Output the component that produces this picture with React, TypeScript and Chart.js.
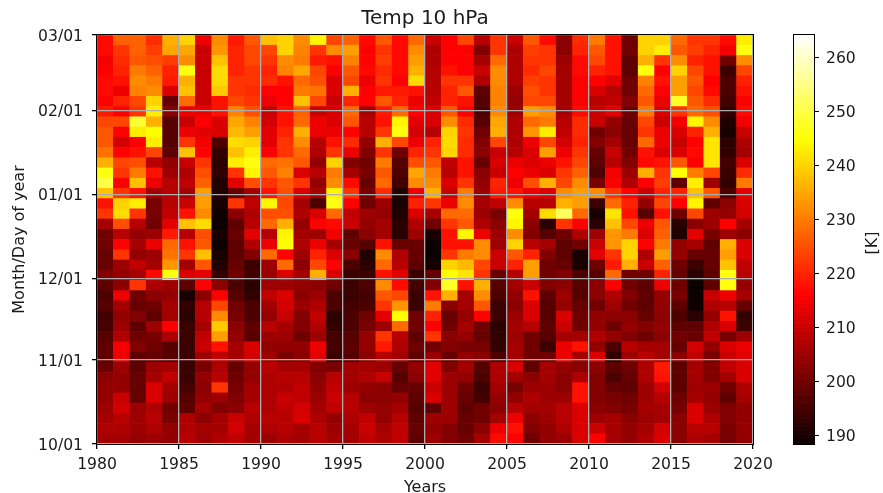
import React, { useEffect, useRef } from "react";
import { Chart, registerables } from "chart.js";

Chart.register(...registerables);

const FONT = "'DejaVu Sans'";
const INK = "#1a1a1a";

const years = [1980, 1981, 1982, 1983, 1984, 1985, 1986, 1987, 1988, 1989, 1990, 1991, 1992, 1993, 1994, 1995, 1996, 1997, 1998, 1999, 2000, 2001, 2002, 2003, 2004, 2005, 2006, 2007, 2008, 2009, 2010, 2011, 2012, 2013, 2014, 2015, 2016, 2017, 2018, 2019];
const dayTicks = [0, 31, 61, 92, 123, 151];
const dayLabels = ["10/01", "11/01", "12/01", "01/01", "02/01", "03/01"];
const colorTicks = [190, 200, 210, 220, 230, 240, 250, 260];
const VMIN = 188.5;
const VMAX = 264.2;
const DAYS = 151;

// Each array runs from the top of the plot (03/01) down to the bottom (10/01).
const t1980 = [217,217,215,216,217,217,216,219,224,226,226,229,236,246,250,238,218,222,206,200,200,199,199,202,198,196,197,195,195,197,198,198,199,203,204,204,205,206,207,206];
const t1981 = [227,222,221,220,218,214,220,216,224,216,211,216,224,222,216,222,240,241,225,208,216,222,205,204,203,214,206,204,205,207,215,214,205,204,204,210,211,208,207,206];
const t1982 = [227,227,226,230,232,231,224,222,249,243,216,218,225,230,238,218,243,222,208,204,206,204,209,206,222,200,199,202,198,200,202,198,198,199,199,199,205,205,205,204];
const t1983 = [221,223,225,227,230,232,240,243,236,245,243,224,208,218,214,206,201,201,200,205,214,205,206,217,207,203,200,198,205,201,200,199,205,206,212,212,207,208,207,205];
const t1984 = [236,235,223,220,219,212,199,203,197,197,197,198,204,205,208,208,208,209,213,219,228,229,233,246,205,204,206,206,216,207,197,197,206,209,206,205,200,201,204,204];
const t1985 = [240,235,232,246,236,238,228,214,210,214,222,238,210,207,209,206,210,218,238,208,218,222,206,212,198,190,193,192,194,194,194,194,194,194,195,197,198,207,207,208];
const t1986 = [214,210,210,210,210,210,210,214,216,213,215,216,222,225,227,234,234,232,241,225,226,238,226,213,216,203,208,208,206,209,210,205,201,204,203,204,206,203,206,205];
const t1987 = [232,233,238,241,241,239,218,218,212,212,196,193,192,193,191,191,190,189,189,190,189,190,191,193,203,216,224,232,239,234,218,209,207,208,222,205,202,206,206,207];
const t1988 = [219,220,220,220,222,222,224,231,235,237,241,238,243,222,213,199,222,203,198,199,198,198,199,200,196,197,200,201,203,204,206,206,199,200,201,202,203,210,211,209];
const t1989 = [226,224,224,222,222,221,222,225,231,234,240,243,246,244,225,206,209,207,208,213,207,202,194,195,192,193,196,196,198,197,212,211,204,204,206,206,208,207,206,206];
const t1990 = [238,224,222,220,221,216,214,210,211,213,213,216,228,226,222,218,244,225,228,208,214,228,205,205,205,209,206,204,208,205,204,205,208,207,207,207,207,208,207,205];
const t1991 = [240,240,232,231,218,216,216,218,218,220,222,222,229,231,226,225,224,225,236,244,245,216,228,212,205,212,211,210,206,205,204,201,206,208,207,210,209,208,208,207];
const t1992 = [232,231,230,235,228,230,238,227,228,236,232,228,226,212,222,212,206,207,204,206,207,205,203,206,204,203,205,202,202,200,204,203,206,208,209,209,211,212,206,206];
const t1993 = [244,222,219,224,225,229,224,210,214,214,208,207,204,208,204,206,196,212,216,205,214,220,224,236,203,205,207,209,207,205,214,213,202,203,204,205,206,207,208,208];
const t1994 = [224,232,218,216,212,212,210,212,212,214,218,222,240,230,232,244,246,228,217,215,206,212,216,212,200,196,196,192,193,195,195,194,201,208,209,210,209,204,205,206];
const t1995 = [227,234,231,226,224,236,220,228,226,216,221,214,202,206,217,222,216,209,210,198,199,203,196,194,194,194,195,196,196,197,198,197,206,206,205,208,208,207,206,206];
const t1996 = [217,216,216,217,214,216,216,206,208,208,204,202,200,201,199,201,200,205,204,203,197,191,192,194,196,195,196,200,201,204,204,203,206,207,204,203,205,209,210,209];
const t1997 = [226,222,223,221,222,219,226,219,218,222,236,222,230,226,228,221,205,204,206,206,218,232,228,218,232,226,222,213,205,222,219,208,205,210,203,203,204,204,206,207];
const t1998 = [217,217,217,217,216,219,220,228,244,246,224,200,197,196,195,191,190,191,192,192,199,207,208,213,217,224,233,245,228,208,207,206,199,197,199,204,206,208,209,209];
const t1999 = [228,232,234,236,241,218,214,216,213,211,214,220,225,235,232,214,220,212,207,205,199,199,198,194,195,194,194,200,200,198,200,198,204,203,199,198,197,198,199,198];
const t2000 = [210,207,207,208,208,208,209,212,212,208,220,222,226,230,232,236,222,206,200,190,189,188.5,190,199,202,218,230,220,216,222,200,205,213,213,210,212,198,205,204,205];
const t2001 = [216,216,216,218,222,220,220,226,232,240,241,240,209,208,212,210,214,228,222,218,218,222,240,245,248,236,203,199,200,203,202,199,202,205,205,205,205,205,202,202];
const t2002 = [224,216,216,216,222,226,218,216,221,222,221,221,218,218,222,230,232,228,226,244,218,230,237,242,218,206,206,204,206,204,201,204,206,204,200,199,198,199,199,200];
const t2003 = [208,202,206,210,207,198,197,196,197,200,202,203,199,203,204,205,206,205,207,214,232,232,224,222,236,232,226,216,200,199,201,203,197,196,194,195,200,200,203,206];
const t2004 = [222,222,228,232,232,231,231,232,235,236,224,210,212,210,220,219,209,201,203,205,205,210,210,199,197,196,194,194,192,193,193,196,207,207,206,204,203,206,214,217];
const t2005 = [210,207,207,207,207,205,204,205,207,207,207,208,214,216,214,218,232,246,244,232,240,226,220,208,206,204,203,205,206,205,206,206,212,206,201,204,208,214,218,216];
const t2006 = [226,223,222,221,223,225,224,234,228,233,214,212,212,214,225,214,208,206,203,202,208,220,234,234,210,218,212,212,208,200,200,200,198,203,205,207,206,203,202,200];
const t2007 = [217,222,222,224,222,222,224,232,230,243,224,234,214,212,236,212,208,241,192,197,206,202,200,200,202,198,197,197,198,197,194,200,206,206,205,205,206,205,204,204];
const t2008 = [203,203,205,206,206,206,206,206,208,209,211,214,218,222,224,232,236,252,222,200,198,198,199,202,203,205,204,212,210,206,214,214,204,203,203,205,208,208,207,205];
const t2009 = [221,220,217,217,216,216,216,217,221,221,220,222,224,227,232,234,234,228,216,207,200,190,190,196,197,197,199,200,200,206,218,206,203,207,218,218,212,212,212,212];
const t2010 = [230,226,224,220,216,212,208,210,210,200,202,199,198,196,201,232,194,190,192,205,210,213,200,197,203,203,200,204,204,207,204,212,203,202,202,202,203,205,210,216];
const t2011 = [218,218,218,218,213,208,209,213,204,203,206,210,208,215,216,222,228,242,238,233,233,222,219,228,216,207,205,203,200,204,196,193,198,196,199,201,202,206,206,206];
const t2012 = [200,200,198,198,200,200,202,200,199,199,199,200,202,205,207,216,220,218,224,230,240,240,236,200,200,202,200,203,204,202,208,205,200,199,198,200,201,203,204,204];
const t2013 = [240,240,236,246,231,228,226,230,224,222,228,218,217,236,216,210,204,197,214,212,216,207,210,200,198,198,198,199,202,200,206,208,207,207,205,205,206,205,206,207];
const t2014 = [240,243,222,216,218,216,214,212,210,214,214,212,218,222,223,220,224,218,226,227,230,234,227,220,214,204,204,203,204,203,206,206,219,218,211,208,206,206,211,212];
const t2015 = [228,226,232,240,234,234,248,222,215,212,210,212,226,245,198,220,216,200,192,191,204,204,200,199,200,201,198,196,198,200,199,203,198,198,198,200,201,203,203,203];
const t2016 = [222,223,220,224,226,224,226,228,244,220,216,217,216,230,243,238,244,224,203,213,206,199,194,192,188.5,189,189,192,198,199,211,209,206,206,205,206,212,212,208,207];
const t2017 = [222,220,218,218,216,217,221,225,232,236,242,242,242,224,205,226,198,205,205,201,198,199,199,198,198,210,207,204,207,209,204,201,202,202,205,204,205,207,208,206];
const t2018 = [217,215,200,194,196,196,195,193,191,190,192,193,195,194,193,196,203,204,216,205,236,234,238,246,246,214,208,218,212,201,212,210,209,206,200,198,202,202,201,201];
const t2019 = [243,246,232,224,220,218,216,217,215,210,207,206,212,221,230,213,212,211,206,203,212,212,209,208,204,206,199,193,194,205,214,213,212,212,207,206,204,204,204,204];

const temps = [t1980, t1981, t1982, t1983, t1984, t1985, t1986, t1987, t1988, t1989, t1990, t1991, t1992, t1993, t1994, t1995, t1996, t1997, t1998, t1999, t2000, t2001, t2002, t2003, t2004, t2005, t2006, t2007, t2008, t2009, t2010, t2011, t2012, t2013, t2014, t2015, t2016, t2017, t2018, t2019];

function hot(v: number): string {
  const f = Math.min(1, Math.max(0, (v - VMIN) / (VMAX - VMIN)));
  const r = f < 0.365 ? 0.0416 + ((1 - 0.0416) * f) / 0.365 : 1;
  const g = f < 0.365 ? 0 : f < 0.746 ? (f - 0.365) / (0.746 - 0.365) : 1;
  const b = f < 0.746 ? 0 : (f - 0.746) / (1 - 0.746);
  return `rgb(${Math.round(r * 255)},${Math.round(g * 255)},${Math.round(b * 255)})`;
}

function cellData() {
  const out: any[] = [];
  temps.forEach((col, yi) => {
    const h = DAYS / col.length;
    col.forEach((temp, i) => {
      out.push({ x: years[yi] + 0.5, y: [DAYS - (i + 1) * h, DAYS - i * h], temp });
    });
  });
  return out;
}

function colorbarData() {
  const n = 256;
  const out: any[] = [];
  for (let i = 0; i < n; i++) {
    const lo = VMIN + ((VMAX - VMIN) * i) / n;
    const hi = VMIN + ((VMAX - VMIN) * (i + 1)) / n;
    out.push({ x: "bar", y: [lo, hi], temp: (lo + hi) / 2 });
  }
  return out;
}

const framePlugin = {
  id: "frame",
  afterDraw(chart: any) {
    const { ctx, chartArea: a } = chart;
    ctx.save();
    ctx.strokeStyle = "#000";
    ctx.lineWidth = 1;
    ctx.strokeRect(Math.round(a.left) - 0.5, Math.round(a.top) - 0.5, Math.round(a.right - a.left) + 1, Math.round(a.bottom - a.top) + 1);
    ctx.restore();
  },
};

function textPlugin(text: string, x: number, y: number, rotate: number) {
  return {
    id: "text-" + text,
    afterDraw(chart: any) {
      const { ctx } = chart;
      ctx.save();
      ctx.translate(x, y);
      ctx.rotate(rotate);
      ctx.fillStyle = INK;
      ctx.font = `16px ${FONT}`;
      ctx.textAlign = "center";
      ctx.textBaseline = "middle";
      ctx.fillText(text, 0, 0);
      ctx.restore();
    },
  };
}

const tickFont = { family: FONT, size: 15.6 };
const axisFont = { family: FONT, size: 16 };

export default function App() {
  const mainRef = useRef<HTMLCanvasElement>(null);
  const barRef = useRef<HTMLCanvasElement>(null);

  useEffect(() => {
    const main = new Chart(mainRef.current as HTMLCanvasElement, {
      type: "bar",
      data: {
        datasets: [
          {
            data: cellData() as any,
            backgroundColor: (c: any) => (c.raw ? hot(c.raw.temp) : "#000"),
            barPercentage: 1,
            categoryPercentage: 1,
            grouped: false,
          } as any,
        ],
      },
      options: {
        responsive: false,
        animation: false,
        events: [],
        layout: { padding: { left: 0, right: 130, top: 0, bottom: 0 } },
        plugins: {
          legend: { display: false },
          tooltip: { enabled: false },
          title: {
            display: true,
            text: "Temp 10 hPa",
            fullSize: false,
            color: INK,
            font: { family: FONT, size: 20, weight: "normal" },
            padding: { top: 6.5, bottom: 4.5 },
          } as any,
        },
        scales: {
          x: {
            type: "linear",
            min: 1980,
            max: 2020,
            offset: false,
            border: { display: false },
            grid: { offset: false, color: "#adadad", lineWidth: 1.3, z: 1, tickLength: 5, tickColor: "#000" },
            ticks: { stepSize: 5, color: INK, font: tickFont, padding: 7, maxRotation: 0, callback: (v: any) => String(v) },
            title: { display: true, text: "Years", color: INK, font: axisFont, padding: { top: 4, bottom: -4 } },
            afterFit(s: any) {
              s.height = 49;
            },
          },
          y: {
            type: "linear",
            min: 0,
            max: DAYS,
            border: { display: false },
            grid: { color: "#adadad", lineWidth: 1.3, z: 1, tickLength: 5, tickColor: "#000" },
            ticks: {
              color: INK,
              font: tickFont,
              padding: 9,
              labelOffset: 1.5,
              callback: (v: any) => dayLabels[dayTicks.indexOf(v)] ?? "",
            },
            title: { display: true, text: "Month/Day of year", color: INK, font: axisFont, padding: { top: 10, bottom: 0 } },
            afterBuildTicks(s: any) {
              s.ticks = dayTicks.map((value) => ({ value }));
            },
            afterFit(s: any) {
              s.width = 97;
            },
          },
        },
      } as any,
      plugins: [framePlugin, textPlugin("Years", 425, -4, 0)],
    });

    const bar = new Chart(barRef.current as HTMLCanvasElement, {
      type: "bar",
      data: {
        labels: ["bar"],
        datasets: [
          {
            data: colorbarData() as any,
            backgroundColor: (c: any) => (c.raw ? hot(c.raw.temp) : "#000"),
            barPercentage: 1,
            categoryPercentage: 1,
            grouped: false,
          } as any,
        ],
      },
      options: {
        responsive: false,
        animation: false,
        events: [],
        layout: { padding: { left: 24, right: 0, top: 35, bottom: 49 } },
        plugins: { legend: { display: false }, tooltip: { enabled: false } },
        scales: {
          x: { display: false },
          y: {
            position: "right",
            min: VMIN,
            max: VMAX,
            border: { display: false },
            grid: { drawOnChartArea: false, drawTicks: true, tickLength: 5, tickColor: "#000" },
            ticks: { color: INK, font: tickFont, padding: 7, labelOffset: 1.5, callback: (v: any) => String(v) },
            afterBuildTicks(s: any) {
              s.ticks = colorTicks.map((value) => ({ value }));
            },
            afterFit(s: any) {
              s.width = 69;
            },
          },
        },
      } as any,
      plugins: [framePlugin, textPlugin("[K]", 103, 243, -Math.PI / 2)],
    });

    return () => {
      main.destroy();
      bar.destroy();
    };
  }, []);

  return (
    <div style={{ position: "absolute", left: 0, top: 0, width: 883, height: 493, background: "#fff" }}>
      <canvas ref={mainRef} width={883} height={493} style={{ position: "absolute", left: 0, top: 0 }} />
      <canvas ref={barRef} width={113} height={493} style={{ position: "absolute", left: 770, top: 0 }} />
    </div>
  );
}
